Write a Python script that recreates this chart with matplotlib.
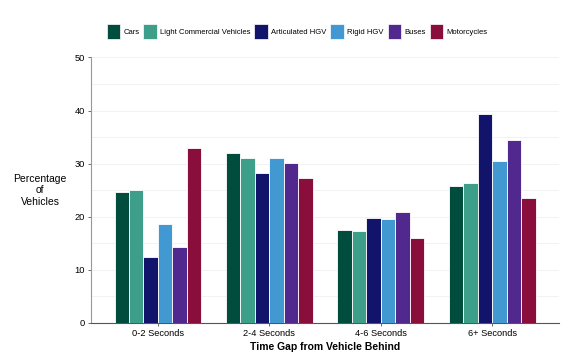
import numpy as np
import matplotlib
matplotlib.use('Agg')
import matplotlib.pyplot as plt
from matplotlib.ticker import MultipleLocator

plt.rcParams['font.family'] = ['Liberation Sans', 'DejaVu Sans']

# data
categories = ['0-2 Seconds', '2-4 Seconds', '4-6 Seconds', '6+ Seconds']
vehicles = ['Cars', 'Light Commercial Vehicles', 'Articulated HGV', 'Rigid HGV', 'Buses', 'Motorcycles']
cars = [24.7, 32.0, 17.4, 25.7]
lcv = [25.0, 31.1, 17.3, 26.4]
articulated = [12.4, 28.3, 19.7, 39.4]
rigid = [18.7, 31.0, 19.6, 30.5]
buses = [14.3, 30.2, 20.9, 34.4]
motorcycles = [33.0, 27.3, 15.9, 23.5]
series = [cars, lcv, articulated, rigid, buses, motorcycles]

colours = ['#004d3d', '#3d9e89', '#12136b', '#4299d2', '#51298e', '#8a0e3c']

fig = plt.figure(figsize=(5.73, 3.56), dpi=100)
ax = fig.add_axes([0.159, 0.0935, 0.817, 0.745])

x = np.arange(len(categories))
w = 0.13
for i, (vals, name) in enumerate(zip(series, vehicles)):
    ax.bar(x + (i - 2.5) * w, vals, width=w, color=colours[i], edgecolor='white',
           linewidth=0.6, label=name, zorder=3)

ax.set_xlim(-0.6, 3.6)
ax.set_ylim(0, 50)
ax.yaxis.set_major_locator(MultipleLocator(10))
ax.yaxis.set_minor_locator(MultipleLocator(5))
ax.grid(axis='y', which='both', color='#f0f0f0', linewidth=0.6, zorder=0)
ax.set_xticks(x)
ax.set_xticklabels(categories)
ax.tick_params(axis='both', labelsize=6.7, length=2.5, width=0.6, color='#555555', pad=2)
ax.tick_params(axis='y', which='minor', length=0)

for side in ['top', 'right']:
    ax.spines[side].set_visible(False)
ax.spines['left'].set_color('#999999')
ax.spines['bottom'].set_color('#555555')
ax.spines['left'].set_linewidth(0.8)
ax.spines['bottom'].set_linewidth(0.8)

ax.set_xlabel('Time Gap from Vehicle Behind', fontsize=7.5, fontweight='bold', labelpad=3)
fig.text(0.07, 0.465, 'Percentage\nof\nVehicles', ha='center', va='center', fontsize=7.5,
         linespacing=1.2)

leg = ax.legend(loc='lower center', bbox_to_anchor=(0.44, 1.07), ncol=6, frameon=False,
                fontsize=5.5, handlelength=1.8, handleheight=2.6, handletextpad=0.4,
                columnspacing=0.5, borderaxespad=0, borderpad=0)
for p in leg.get_patches():
    p.set_edgecolor('white')
    p.set_linewidth(0.5)

fig.savefig('out.png', dpi=100)
